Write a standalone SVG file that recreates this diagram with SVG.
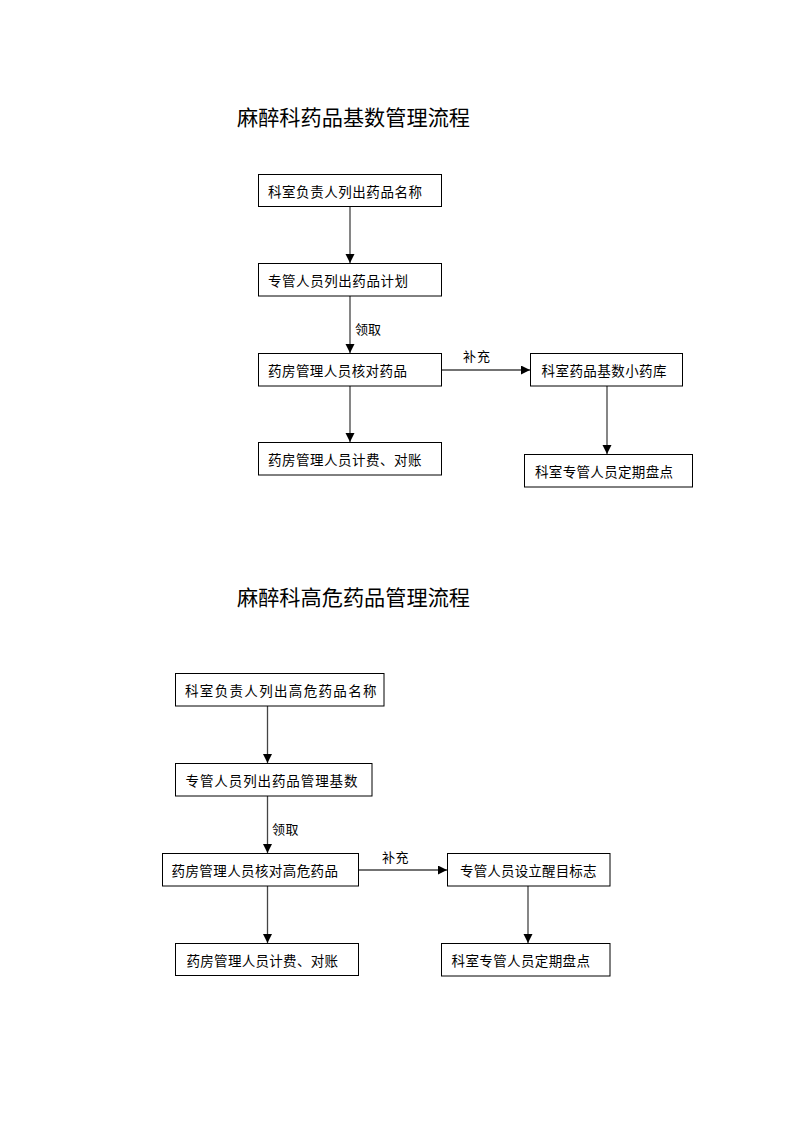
<svg xmlns="http://www.w3.org/2000/svg" width="793" height="1122" viewBox="0 0 793 1122">
<style>
text{font-family:"Noto Sans CJK SC","Noto Sans CJK JP",sans-serif;fill:#000;dominant-baseline:central}
.t{font-size:21px}
.n{font-size:13.5px}
.l{font-size:13px}
rect{fill:#fff;stroke:#000;stroke-width:1}
.c line{stroke:#444;stroke-width:1.3}
</style>
<defs>
<marker id="ah" markerUnits="userSpaceOnUse" markerWidth="10" markerHeight="10" refX="9" refY="4.5" orient="auto">
<path d="M0,0 L9,4.5 L0,9 Z" fill="#000"/>
</marker>
</defs>
<rect x="0" y="0" width="793" height="1122" style="stroke:none;fill:#fff"/>

<text class="t" x="237" y="116" textLength="233" lengthAdjust="spacingAndGlyphs">麻醉科药品基数管理流程</text>
<text class="t" x="237" y="596" textLength="233" lengthAdjust="spacingAndGlyphs">麻醉科高危药品管理流程</text>

<g class="c" id="connectors">
<line x1="350" y1="206" x2="350" y2="263" marker-end="url(#ah)"/>
<line x1="350" y1="296" x2="350" y2="353" marker-end="url(#ah)"/>
<line x1="441" y1="370" x2="530" y2="370" marker-end="url(#ah)"/>
<line x1="350" y1="386" x2="350" y2="442" marker-end="url(#ah)"/>
<line x1="607" y1="386" x2="607" y2="454" marker-end="url(#ah)"/>
<line x1="267.5" y1="706" x2="267.5" y2="763" marker-end="url(#ah)"/>
<line x1="267.5" y1="796" x2="267.5" y2="853" marker-end="url(#ah)"/>
<line x1="358" y1="870" x2="447" y2="870" marker-end="url(#ah)"/>
<line x1="267.5" y1="886" x2="267.5" y2="943" marker-end="url(#ah)"/>
<line x1="528" y1="886" x2="528" y2="943" marker-end="url(#ah)"/>
</g>
<g id="labels">
<text class="l" x="355" y="328" textLength="26">领取</text>
<text class="l" x="463" y="355" textLength="27">补充</text>
<text class="l" x="272" y="828" textLength="26.5">领取</text>
<text class="l" x="382" y="856.5" textLength="26.5">补充</text>
</g>

<g id="n1"><rect x="258.5" y="174.5" width="183" height="32"/><text class="n" x="268" y="190.5" textLength="154">科室负责人列出药品名称</text></g>
<g id="n2"><rect x="258.5" y="263.5" width="183" height="32.5"/><text class="n" x="268" y="279.5" textLength="140">专管人员列出药品计划</text></g>
<g id="n3"><rect x="258.5" y="353.5" width="183" height="32.5"/><text class="n" x="268" y="370" textLength="139">药房管理人员核对药品</text></g>
<g id="n4"><rect x="530.5" y="353.5" width="152" height="32.5"/><text class="n" x="541.5" y="370" textLength="125">科室药品基数小药库</text></g>
<g id="n5"><rect x="258.5" y="442.5" width="183" height="32.5"/><text class="n" x="268" y="458.5" textLength="153.5">药房管理人员计费、对账</text></g>
<g id="n6"><rect x="524.5" y="454.5" width="168" height="32.5"/><text class="n" x="535" y="471" textLength="138">科室专管人员定期盘点</text></g>

<g id="m1"><rect x="175.5" y="673.5" width="208.5" height="32.5"/><text class="n" x="185" y="690" textLength="191.5">科室负责人列出高危药品名称</text></g>
<g id="m2"><rect x="175.5" y="763.5" width="196.5" height="32.5"/><text class="n" x="185.5" y="779.5" textLength="172">专管人员列出药品管理基数</text></g>
<g id="m3"><rect x="162.5" y="853.5" width="196" height="32.5"/><text class="n" x="171.5" y="870" textLength="166.5">药房管理人员核对高危药品</text></g>
<g id="m4"><rect x="447.5" y="853.5" width="162.5" height="32.5"/><text class="n" x="460" y="870" textLength="136.5">专管人员设立醒目标志</text></g>
<g id="m5"><rect x="175.5" y="943.5" width="183" height="32"/><text class="n" x="186.5" y="959.5" textLength="151.5">药房管理人员计费、对账</text></g>
<g id="m6"><rect x="441.5" y="943.5" width="168.5" height="32.5"/><text class="n" x="451.5" y="960" textLength="138.5">科室专管人员定期盘点</text></g>
</svg>
